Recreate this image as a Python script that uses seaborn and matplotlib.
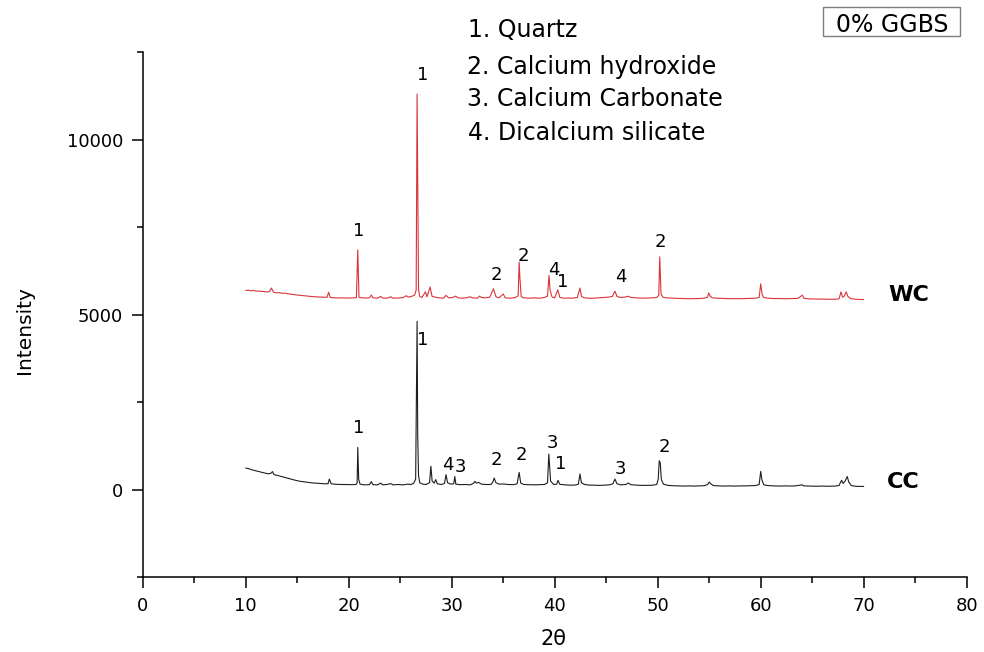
import matplotlib
matplotlib.use("Agg")
import matplotlib.pyplot as plt
from matplotlib.patches import Rectangle
from matplotlib.ticker import MultipleLocator
import pandas as pd
import seaborn as sns

# ---- XRD traces (2θ in degrees, counts) ----
wc_trace = [
    (10.0, 5690), (10.3, 5700), (10.5, 5680), (10.8, 5690), (11.0, 5670), (11.3, 5675),
    (11.5, 5665), (11.8, 5660), (12.0, 5650), (12.3, 5655),
    (12.5, 5760), (12.7, 5640), (13.0, 5620), (13.3, 5630), (13.5, 5610), (13.8, 5615),
    (14.0, 5600), (14.5, 5580),
    (15.0, 5560), (15.5, 5545), (16.0, 5530), (16.5, 5515), (17.0, 5505), (17.5, 5500),
    (17.9, 5495), (18.05, 5640), (18.2, 5490), (18.6, 5480), (19.0, 5478), (19.5, 5475),
    (20.0, 5475), (20.5, 5478), (20.75, 5490), (20.88, 6850), (21.0, 5500), (21.3, 5480),
    (21.7, 5475), (22.0, 5480), (22.2, 5560), (22.35, 5480), (22.8, 5470), (23.1, 5520),
    (23.3, 5475), (23.7, 5470), (24.1, 5510), (24.3, 5470), (24.8, 5475), (25.3, 5490),
    (25.6, 5540), (25.8, 5500), (26.1, 5520), (26.4, 5560), (26.55, 5700), (26.64, 11300),
    (26.7, 9050), (26.78, 5700), (26.9, 5520), (27.1, 5490), (27.45, 5650), (27.6, 5510),
    (27.9, 5790), (28.1, 5520), (28.4, 5500), (28.8, 5480), (29.2, 5470), (29.45, 5550),
    (29.7, 5480), (30.1, 5490), (30.4, 5530), (30.6, 5480), (31.0, 5470), (31.4, 5480),
    (31.8, 5510), (32.0, 5480), (32.5, 5470), (32.7, 5530), (32.9, 5490), (33.2, 5480),
    (33.7, 5500), (34.05, 5740), (34.3, 5510), (34.6, 5480), (35.0, 5590), (35.2, 5480),
    (35.7, 5470), (36.2, 5490), (36.45, 5540), (36.55, 6500), (36.62, 6050), (36.75, 5510),
    (37.0, 5480), (37.5, 5470), (38.0, 5480), (38.5, 5470), (39.0, 5490), (39.3, 5530),
    (39.45, 6120), (39.55, 5700), (39.75, 5500), (40.0, 5480), (40.3, 5710), (40.5, 5490),
    (40.9, 5470), (41.3, 5475), (41.7, 5470), (42.2, 5490), (42.45, 5760), (42.6, 5520),
    (42.9, 5480), (43.3, 5470), (43.8, 5470), (44.3, 5480), (44.8, 5490), (45.2, 5500),
    (45.6, 5520), (45.85, 5670), (46.05, 5520), (46.4, 5490), (46.8, 5500), (47.15, 5525),
    (47.4, 5490), (48.0, 5480), (48.5, 5470), (49.0, 5475), (49.5, 5480), (49.9, 5490),
    (50.1, 5550), (50.2, 6650), (50.32, 5600), (50.5, 5500), (50.8, 5480), (51.5, 5470),
    (52.0, 5465), (52.5, 5460), (53.0, 5455), (53.5, 5458), (54.0, 5460), (54.5, 5470),
    (54.85, 5500), (54.95, 5620), (55.1, 5530), (55.3, 5480), (55.8, 5470), (56.5, 5460),
    (57.0, 5455), (57.5, 5458), (58.0, 5455), (58.5, 5460), (59.0, 5465), (59.5, 5470),
    (59.85, 5490), (60.0, 5880), (60.15, 5560), (60.3, 5490), (60.7, 5470), (61.2, 5460),
    (61.8, 5460), (62.4, 5455), (63.0, 5460), (63.6, 5465), (64.05, 5555), (64.2, 5465),
    (64.8, 5450), (65.4, 5445), (66.0, 5445), (66.6, 5440), (67.2, 5440), (67.6, 5450),
    (67.8, 5650), (67.95, 5500), (68.1, 5520), (68.3, 5650), (68.45, 5530), (68.7, 5460),
    (69.2, 5440), (69.6, 5435), (70.0, 5430),
]

cc_trace = [
    (10.0, 620), (10.3, 600), (10.6, 570), (11.0, 540), (11.4, 510), (11.8, 480),
    (12.2, 455), (12.45, 470), (12.6, 520), (12.75, 430), (13.2, 400), (13.7, 360),
    (14.2, 320), (14.7, 280), (15.2, 245), (15.7, 225), (16.2, 205), (16.7, 190),
    (17.2, 180), (17.7, 170), (18.0, 175), (18.12, 305), (18.3, 170), (18.8, 155),
    (19.3, 150), (19.8, 150), (20.3, 145), (20.7, 150), (20.82, 200), (20.88, 1210),
    (20.97, 300), (21.1, 160), (21.5, 140), (22.0, 145), (22.2, 230), (22.35, 145),
    (22.8, 140), (23.1, 190), (23.3, 140), (23.7, 150), (24.1, 175), (24.3, 140),
    (24.8, 150), (25.3, 140), (25.7, 160), (26.0, 150), (26.3, 180), (26.5, 300),
    (26.64, 4810), (26.7, 1570), (26.78, 400), (26.9, 200), (27.2, 160), (27.5, 150),
    (27.85, 200), (27.98, 670), (28.1, 250), (28.3, 190), (28.45, 290), (28.6, 170),
    (29.0, 150), (29.3, 180), (29.45, 430), (29.6, 200), (29.9, 160), (30.2, 170),
    (30.3, 380), (30.4, 160), (30.8, 145), (31.3, 150), (31.8, 140), (32.1, 180),
    (32.25, 240), (32.4, 190), (32.6, 210), (32.9, 160), (33.3, 150), (33.8, 150),
    (34.0, 220), (34.12, 335), (34.3, 200), (34.6, 160), (35.0, 165), (35.5, 150),
    (36.0, 145), (36.35, 170), (36.55, 495), (36.7, 190), (37.0, 150), (37.5, 145),
    (38.0, 140), (38.5, 145), (39.0, 150), (39.3, 200), (39.43, 1020), (39.5, 700),
    (39.6, 250), (39.9, 150), (40.2, 160), (40.32, 270), (40.5, 155), (41.0, 140),
    (41.5, 130), (42.0, 135), (42.3, 160), (42.45, 450), (42.6, 200), (42.9, 150),
    (43.3, 135), (43.8, 130), (44.3, 125), (44.8, 130), (45.3, 140), (45.65, 170),
    (45.85, 305), (46.05, 170), (46.4, 140), (46.9, 150), (47.15, 190), (47.4, 145),
    (48.0, 130), (48.5, 125), (49.0, 125), (49.5, 130), (49.9, 150), (50.05, 300),
    (50.15, 830), (50.25, 760), (50.35, 300), (50.55, 160), (51.0, 125), (51.5, 115),
    (52.0, 110), (52.5, 105), (53.0, 110), (53.5, 105), (54.0, 110), (54.5, 115),
    (54.85, 150), (55.0, 220), (55.15, 170), (55.4, 120), (56.0, 110), (56.5, 105),
    (57.0, 110), (57.5, 105), (58.0, 110), (58.5, 110), (59.0, 115), (59.5, 120),
    (59.85, 150), (60.0, 525), (60.12, 280), (60.3, 140), (60.7, 120), (61.3, 110),
    (61.9, 105), (62.5, 110), (63.0, 105), (63.5, 115), (64.0, 140), (64.2, 110),
    (64.8, 105), (65.4, 100), (66.0, 105), (66.6, 100), (67.2, 105), (67.6, 120),
    (67.85, 270), (68.0, 180), (68.2, 250), (68.4, 380), (68.55, 220), (68.8, 120),
    (69.2, 100), (69.6, 95), (70.0, 95),
]

# phase index written above each identified reflection
wc_peak_phase = ["1", "1", "2", "2", "4", "1", "4", "2"]
cc_peak_phase = ["1", "1", "4", "3", "2", "2", "3", "1", "3", "2"]

phase_names = ["1. Quartz", "2. Calcium hydroxide", "3. Calcium Carbonate",
               "4. Dicalcium silicate"]
sample_names = ["WC", "CC"]
mix_title = "0% GGBS"

x_ticks = [0, 10, 20, 30, 40, 50, 60, 70, 80]
y_ticks = [0, 5000, 10000]

# ---- layout ----
wc_label_xy = [(20.93, 7400), (27.21, 11830), (34.37, 6143), (36.95, 6686),
               (39.93, 6286), (40.78, 5923), (46.41, 6077), (50.25, 7066)]
cc_label_xy = [(20.93, 1771), (27.18, 4266), (29.58, 714), (30.88, 637),
               (34.37, 857), (36.80, 1000), (39.81, 1334), (40.61, 734),
               (46.41, 591), (50.64, 1209)]

W, H = 984, 652
sns.set_style("ticks")
plt.rcParams["font.family"] = ["DejaVu Sans"]
plt.rcParams["text.color"] = "black"

fig = plt.figure(figsize=(W / 100, H / 100), dpi=100)
ax = fig.add_axes([142.7 / W, 1 - 577.3 / H, (966.7 - 142.7) / W, (577.3 - 52) / H])

wc_df = pd.DataFrame(wc_trace, columns=["two_theta", "counts"])
cc_df = pd.DataFrame(cc_trace, columns=["two_theta", "counts"])
sns.lineplot(data=wc_df, x="two_theta", y="counts", ax=ax, color="#d9343a",
             lw=0.8, estimator=None, sort=False)
sns.lineplot(data=cc_df, x="two_theta", y="counts", ax=ax, color="#1e1e1e",
             lw=0.8, estimator=None, sort=False)

ax.set_xlim(0, 80)
ax.set_ylim(-2500, 12500)
ax.set_xticks(x_ticks)
ax.set_yticks(y_ticks)
ax.xaxis.set_minor_locator(MultipleLocator(5))
ax.yaxis.set_minor_locator(MultipleLocator(2500))
ax.tick_params(axis="both", which="major", direction="out", length=8, width=1.1,
               labelsize=13, pad=6, colors="black")
ax.tick_params(axis="both", which="minor", direction="out", length=4.5, width=1.1,
               colors="black")
for s in ("top", "right"):
    ax.spines[s].set_visible(False)
for s in ("left", "bottom"):
    ax.spines[s].set_linewidth(1.1)
    ax.spines[s].set_color("black")
ax.set_xlabel("")
ax.set_ylabel("")

for (x, y), t in zip(wc_label_xy, wc_peak_phase):
    ax.text(x, y, t, ha="center", va="center", fontsize=13, color="black")
for (x, y), t in zip(cc_label_xy, cc_peak_phase):
    ax.text(x, y, t, ha="center", va="center", fontsize=13, color="black")


def fpx(x, y):
    return x / W, 1 - y / H


# axis titles
fig.text(*fpx(25, 330), "Intensity", rotation=90, ha="center", va="center",
         fontsize=14.5)
fig.text(*fpx(554, 645), "2θ", ha="center", va="baseline", fontsize=15)

# phase key
for (px, py), name in zip([(468, 37.3), (466.7, 74), (466.7, 106), (467.7, 140)],
                          phase_names):
    fig.text(*fpx(px, py), name, ha="left", va="baseline", fontsize=17)

# sample names
fig.text(*fpx(888, 300.7), sample_names[0], ha="left", va="baseline",
         fontsize=16, fontweight="bold")
fig.text(*fpx(887, 488.3), sample_names[1], ha="left", va="baseline",
         fontsize=16, fontweight="bold")

# boxed mix title
fig.patches.append(Rectangle(fpx(823.3, 36), (960 - 823.3) / W, (36 - 6.7) / H,
                             transform=fig.transFigure, fill=False,
                             edgecolor="#7f7f7f", lw=1.0))
fig.text(*fpx(892, 31.7), mix_title, ha="center", va="baseline", fontsize=17)

fig.savefig("out.png", dpi=100, facecolor="white")
